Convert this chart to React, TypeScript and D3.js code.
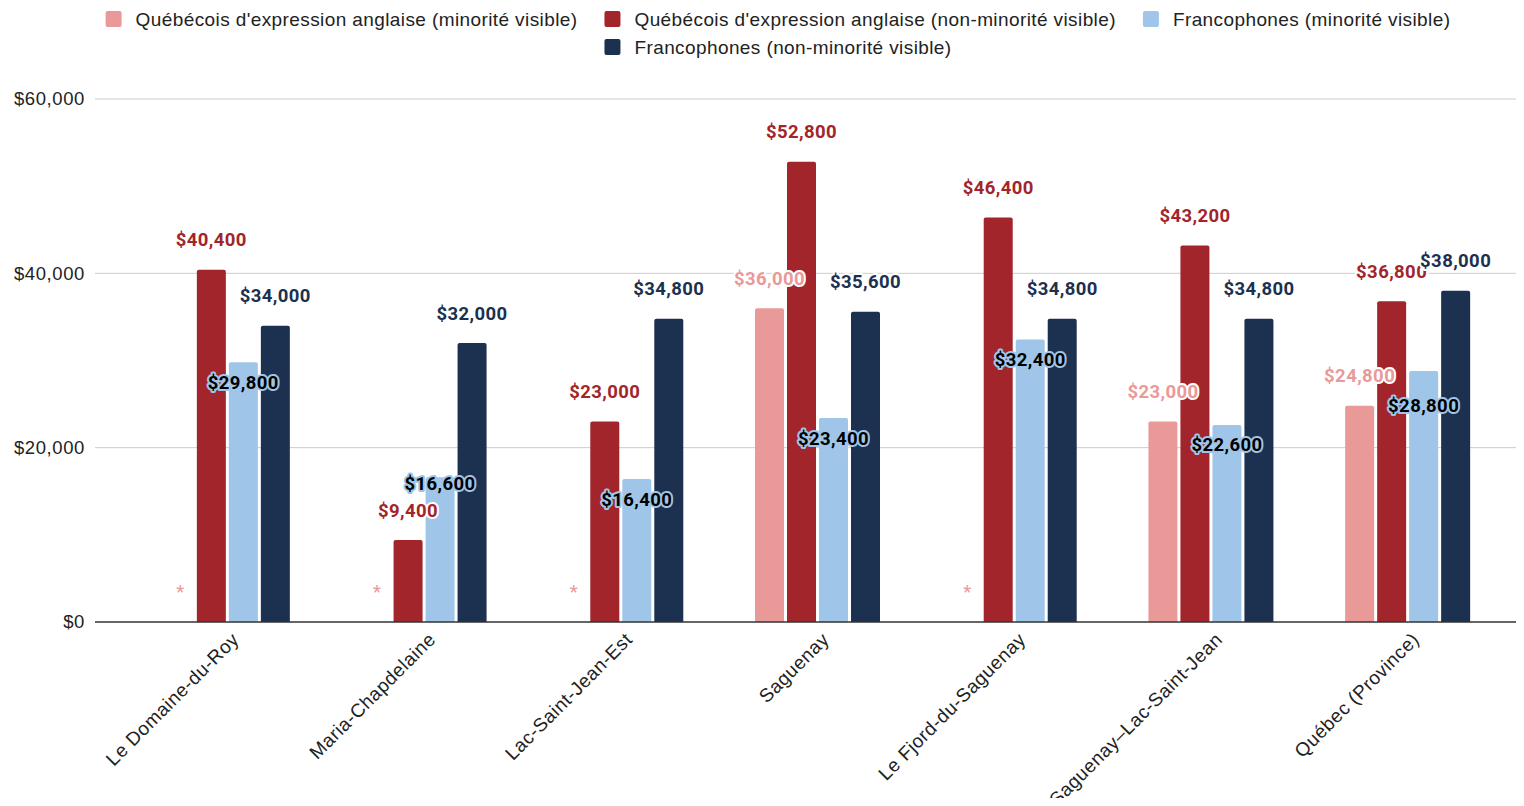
import * as d3 from 'd3';
import React, { useEffect, useRef } from 'react';

const WIDTH = 1524;
const HEIGHT = 806;
const BASELINE = 622;
const TOP = 99;
const GRID_LEFT = 95;
const GRID_RIGHT = 1524;
const BAND_LEFT = 129;
const BAND_RIGHT = 1506;

const categories = [
  'Le Domaine-du-Roy',
  'Maria-Chapdelaine',
  'Lac-Saint-Jean-Est',
  'Saguenay',
  'Le Fjord-du-Saguenay',
  'Saguenay–Lac-Saint-Jean',
  'Québec (Province)',
];

const seriesNames = [
  "Québécois d'expression anglaise (minorité visible)",
  "Québécois d'expression anglaise (non-minorité visible)",
  'Francophones (minorité visible)',
  'Francophones (non-minorité visible)',
];

// null = value suppressed (shown as *)
const angloMinority = [null, null, null, 36000, null, 23000, 24800];
const angloNonMinority = [40400, 9400, 23000, 52800, 46400, 43200, 36800];
const francoMinority = [29800, 16600, 16400, 23400, 32400, 22600, 28800];
const francoNonMinority = [34000, 32000, 34800, 35600, 34800, 34800, 38000];

const yTicks = [0, 20000, 40000, 60000];

const colors = ['#ea9999', '#a2252b', '#9fc5e8', '#1c304f'];
const labelFill = ['#ea9999', '#a2252b', '#000000', '#1c304f'];
const labelHalo = ['#ffffff', '#ffffff', '#9fc5e8', '#ffffff'];

const AXIS_FONT = '"Liberation Sans", Arial, sans-serif';
const LABEL_FONT = 'Roboto, "Noto Sans", sans-serif';

const App = (): JSX.Element => {
  const ref = useRef<SVGSVGElement>(null);

  useEffect(() => {
    if (ref.current === null) return;
    ref.current.replaceChildren();

    const values = [angloMinority, angloNonMinority, francoMinority, francoNonMinority];
    const keys = d3.range(seriesNames.length);

    const x0 = d3.scaleBand<string>().domain(categories).range([BAND_LEFT, BAND_RIGHT]);
    const x1 = d3
      .scaleBand<number>()
      .domain(keys)
      .range([-64, 64])
      .paddingInner(3 / 32)
      .paddingOuter(1.5 / 32);
    const y = d3.scaleLinear().domain([0, 60000]).range([BASELINE, TOP]);

    const svg = d3.select(ref.current).attr('width', WIDTH).attr('height', HEIGHT);

    // gridlines + y labels
    const grid = svg.append('g');
    grid
      .selectAll('line')
      .data(yTicks.filter((t) => t > 0))
      .join('line')
      .attr('x1', GRID_LEFT)
      .attr('x2', GRID_RIGHT)
      .attr('y1', (d) => y(d))
      .attr('y2', (d) => y(d))
      .attr('stroke', '#cccccc')
      .attr('stroke-width', 1);
    grid
      .selectAll('text')
      .data(yTicks)
      .join('text')
      .attr('x', 85)
      .attr('y', (d) => y(d))
      .attr('dy', '0.35em')
      .attr('text-anchor', 'end')
      .attr('font-family', AXIS_FONT)
      .attr('font-size', 18.5)
      .attr('letter-spacing', 0.6)
      .attr('fill', '#222')
      .text((d) => d3.format('$,')(d));

    const center = (c: string) => (x0(c) ?? 0) + x0.bandwidth() / 2;

    // bars
    const bars = svg.append('g');
    keys.forEach((k) => {
      bars
        .append('g')
        .attr('fill', colors[k])
        .selectAll('path')
        .data(categories.map((c, i) => ({ c, v: values[k][i] })).filter((d) => d.v !== null))
        .join('path')
        .attr('d', (d) => {
          const bx = center(d.c) + (x1(k) ?? 0);
          const w = x1.bandwidth();
          const top = y(d.v as number);
          const r = 2;
          return `M${bx},${BASELINE}V${top + r}Q${bx},${top} ${bx + r},${top}H${bx + w - r}Q${bx + w},${top} ${bx + w},${top + r}V${BASELINE}Z`;
        });
    });

    // axis line
    svg
      .append('line')
      .attr('x1', GRID_LEFT)
      .attr('x2', GRID_RIGHT)
      .attr('y1', BASELINE)
      .attr('y2', BASELINE)
      .attr('stroke', '#333')
      .attr('stroke-width', 1.5);

    // data labels
    type Lbl = { k: number; i: number; x: number; y: number; text: string };
    const labels: Lbl[] = [];
    categories.forEach((c, i) => {
      const cx = (k: number) => center(c) + (x1(k) ?? 0) + x1.bandwidth() / 2;
      const group: Lbl[] = [];
      [0, 1, 3].forEach((k) => {
        const v = values[k][i];
        if (v === null) return;
        group.push({ k, i, x: cx(k), y: y(v) - 30, text: d3.format('$,')(v) });
      });
      const lv = values[2][i];
      if (lv !== null) {
        let ly = y(lv) + 20;
        group
          .filter((g) => g.k < 2)
          .forEach((g) => {
            if (Math.abs(ly - g.y) < 18) ly = ly < g.y ? g.y - 27 : g.y + 30;
          });
        group.push({ k: 2, i, x: cx(2), y: ly, text: d3.format('$,')(lv) });
      }
      labels.push(...group);
    });

    svg
      .append('g')
      .selectAll('text')
      .data(labels)
      .join('text')
      .attr('x', (d) => d.x)
      .attr('y', (d) => d.y)
      .attr('dy', '0.35em')
      .attr('text-anchor', 'middle')
      .attr('font-family', LABEL_FONT)
      .attr('font-weight', 700)
      .attr('font-size', 18.5)
      .attr('letter-spacing', 0.4)
      .attr('fill', (d) => labelFill[d.k])
      .attr('stroke', (d) => labelHalo[d.k])
      .attr('stroke-width', 4)
      .attr('stroke-linejoin', 'round')
      .attr('paint-order', 'stroke')
      .text((d) => d.text);

    // asterisks for suppressed values
    svg
      .append('g')
      .selectAll('text')
      .data(categories.filter((_, i) => angloMinority[i] === null))
      .join('text')
      .attr('x', (c) => center(c) + (x1(0) ?? 0) + x1.bandwidth() / 2 + 1)
      .attr('y', BASELINE - 24)
      .attr('text-anchor', 'middle')
      .attr('font-family', LABEL_FONT)
      .attr('font-size', 18.5)
      .attr('fill', colors[0])
      .text('*');

    // x labels
    svg
      .append('g')
      .selectAll('text')
      .data(categories)
      .join('text')
      .attr('transform', (c) => `translate(${center(c) + 8},${BASELINE + 14}) rotate(-45)`)
      .attr('dy', '0.35em')
      .attr('text-anchor', 'end')
      .attr('font-family', AXIS_FONT)
      .attr('font-size', 19)
      .attr('letter-spacing', 0.5)
      .attr('fill', '#222')
      .text((c) => c);

    // legend, rows centered
    const rows = [
      [0, 1, 2],
      [3],
    ];
    const legendCenter = 778;
    const swatch = 16;
    const textGap = 14;
    const itemGap = 27;
    const legend = svg.append('g');
    rows.forEach((row, r) => {
      const ry = 19 + r * 28;
      const items = row.map((k) => {
        const g = legend.append('g');
        g.append('rect')
          .attr('width', swatch)
          .attr('height', swatch)
          .attr('y', ry - swatch / 2)
          .attr('rx', 2)
          .attr('fill', colors[k]);
        const t = g
          .append('text')
          .attr('x', swatch + textGap)
          .attr('y', ry)
          .attr('dy', '0.35em')
          .attr('font-family', AXIS_FONT)
          .attr('font-size', 19)
          .attr('letter-spacing', 0.4)
          .attr('fill', '#222')
          .text(seriesNames[k]);
        const w = swatch + textGap + (t.node() as SVGTextElement).getComputedTextLength();
        return { g, w };
      });
      const total = d3.sum(items, (d) => d.w) + itemGap * (items.length - 1);
      let cx = legendCenter - total / 2;
      items.forEach((it) => {
        it.g.attr('transform', `translate(${cx},0)`);
        cx += it.w + itemGap;
      });
    });
  }, []);

  return (
    <div style={{ margin: -8 }}>
      <svg ref={ref} style={{ display: 'block' }} />
    </div>
  );
};

export default App;
